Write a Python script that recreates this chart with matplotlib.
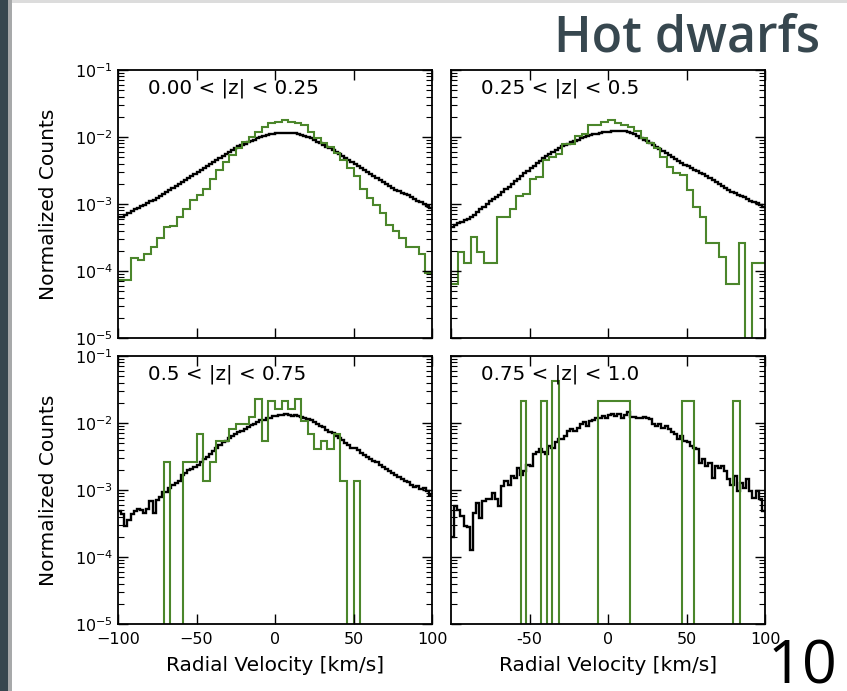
import numpy as np
import matplotlib
matplotlib.use("Agg")
import matplotlib.pyplot as plt
from matplotlib.patches import Rectangle

# ---- data ----
panel_labels = ["0.00 < |z| < 0.25", "0.25 < |z| < 0.5", "0.5 < |z| < 0.75", "0.75 < |z| < 1.0"]

# black: all stars, 100 bins of 2 km/s, stored as log10(normalized counts)
black_edges = np.linspace(-100, 100, 101)
tl_black_log10 = [
    -3.20, -3.19, -3.17, -3.13, -3.10, -3.08, -3.06, -3.03, -3.01, -2.98,
    -2.96, -2.94, -2.91, -2.88, -2.85, -2.82, -2.79, -2.76, -2.73, -2.70,
    -2.67, -2.64, -2.61, -2.58, -2.55, -2.52, -2.49, -2.46, -2.43, -2.40,
    -2.37, -2.34, -2.31, -2.28, -2.25, -2.22, -2.19, -2.17, -2.14, -2.12,
    -2.10, -2.08, -2.06, -2.04, -2.02, -2.00, -1.99, -1.97, -1.96, -1.95,
    -1.945, -1.94, -1.935, -1.935, -1.935, -1.94, -1.945, -1.955, -1.97, -1.985,
    -2.00, -2.02, -2.045, -2.07, -2.095, -2.12, -2.145, -2.17, -2.195, -2.22,
    -2.25, -2.28, -2.31, -2.34, -2.37, -2.40, -2.43, -2.46, -2.49, -2.52,
    -2.55, -2.58, -2.61, -2.64, -2.67, -2.70, -2.73, -2.76, -2.79, -2.81,
    -2.83, -2.85, -2.87, -2.90, -2.92, -2.95, -2.97, -3.00, -3.03, -3.06]
tr_black_log10 = [
    -3.35, -3.32, -3.29, -3.27, -3.24, -3.22, -3.19, -3.16, -3.12, -3.08,
    -3.04, -3.00, -2.96, -2.93, -2.89, -2.86, -2.82, -2.78, -2.74, -2.70,
    -2.66, -2.62, -2.58, -2.54, -2.50, -2.47, -2.43, -2.39, -2.36, -2.32,
    -2.29, -2.26, -2.23, -2.20, -2.17, -2.14, -2.12, -2.10, -2.08, -2.06,
    -2.04, -2.02, -2.00, -1.99, -1.97, -1.96, -1.95, -1.94, -1.93, -1.925,
    -1.92, -1.915, -1.91, -1.905, -1.905, -1.91, -1.92, -1.94, -1.96, -1.99,
    -2.01, -2.04, -2.06, -2.09, -2.12, -2.15, -2.18, -2.21, -2.24, -2.27,
    -2.30, -2.33, -2.36, -2.39, -2.42, -2.44, -2.47, -2.49, -2.51, -2.53,
    -2.55, -2.58, -2.61, -2.64, -2.67, -2.70, -2.73, -2.76, -2.79, -2.82,
    -2.84, -2.86, -2.88, -2.90, -2.93, -2.95, -2.97, -2.99, -3.02, -3.04]
bl_black_log10 = [
    -3.32, -3.36, -3.54, -3.45, -3.36, -3.31, -3.28, -3.30, -3.34, -3.28,
    -3.17, -3.34, -3.15, -3.10, -3.03, -3.03, -2.97, -2.92, -2.90, -2.86,
    -2.78, -2.74, -2.70, -2.68, -2.65, -2.62, -2.58, -2.54, -2.50, -2.46,
    -2.42, -2.38, -2.33, -2.29, -2.27, -2.23, -2.19, -2.16, -2.14, -2.12,
    -2.09, -2.06, -2.03, -2.01, -1.98, -1.96, -1.95, -1.93, -1.92, -1.90,
    -1.89, -1.88, -1.88, -1.87, -1.88, -1.89, -1.88, -1.90, -1.91, -1.93,
    -1.94, -1.96, -1.99, -2.01, -2.04, -2.06, -2.10, -2.13, -2.15, -2.20,
    -2.23, -2.26, -2.30, -2.33, -2.37, -2.38, -2.41, -2.45, -2.48, -2.50,
    -2.54, -2.57, -2.58, -2.62, -2.66, -2.68, -2.72, -2.75, -2.78, -2.80,
    -2.84, -2.87, -2.88, -2.92, -2.95, -2.94, -2.98, -2.97, -3.02, -3.07]
br_black_log10 = [
    -3.70, -3.24, -3.30, -3.39, -3.54, -3.55, -3.90, -3.34, -3.19, -3.42,
    -3.17, -3.14, -3.14, -3.04, -3.14, -3.24, -2.94, -2.87, -2.92, -2.79,
    -2.82, -2.67, -2.77, -2.72, -2.62, -2.64, -2.47, -2.44, -2.39, -2.44,
    -2.47, -2.34, -2.37, -2.29, -2.24, -2.24, -2.19, -2.12, -2.09, -2.12,
    -2.07, -2.01, -1.99, -2.04, -1.97, -1.96, -1.92, -1.92, -1.90, -1.92,
    -1.88, -1.86, -1.89, -1.87, -1.93, -1.88, -1.83, -1.91, -1.91, -1.93,
    -1.92, -1.91, -1.92, -1.94, -2.02, -2.04, -2.01, -2.07, -2.04, -2.09,
    -2.14, -2.17, -2.24, -2.19, -2.27, -2.29, -2.34, -2.37, -2.39, -2.59,
    -2.54, -2.64, -2.59, -2.82, -2.64, -2.67, -2.64, -2.72, -2.84, -2.92,
    -2.79, -3.02, -2.89, -2.97, -2.84, -3.02, -3.12, -3.02, -3.14, -3.32]

# green: hot dwarfs, 48 bins over -100..100 (normalized counts)
green_edges = np.linspace(-100, 100, 49)
tl_green = [
    7.3e-5, 7.3e-5, 1.55e-4, 1.45e-4, 1.8e-4, 2.3e-4, 3.1e-4, 4.5e-4, 4.7e-4, 6.5e-4,
    8.3e-4, 1.15e-3, 1.36e-3, 1.7e-3, 2.4e-3, 3.2e-3, 4.2e-3, 5.4e-3, 6.8e-3, 8.5e-3,
    1.01e-2, 1.2e-2, 1.43e-2, 1.64e-2, 1.68e-2, 1.8e-2, 1.7e-2, 1.6e-2, 1.5e-2, 1.2e-2,
    9.5e-3, 8.1e-3, 7.2e-3, 5.8e-3, 4.6e-3, 3.4e-3, 2.6e-3, 1.7e-3, 1.23e-3, 9.8e-4,
    7.3e-4, 4.9e-4, 3.9e-4, 3.1e-4, 2.3e-4, 2.3e-4, 1.8e-4, 9.3e-5]
tr_green = [
    6.5e-5, 1.95e-4, 1.3e-4, 3.25e-4, 1.95e-4, 1.3e-4, 1.3e-4, 6.5e-4, 6.5e-4, 8.5e-4,
    1.3e-3, 1.4e-3, 2.4e-3, 2.5e-3, 4.5e-3, 5.0e-3, 5.5e-3, 7.9e-3, 7.9e-3, 1.03e-2,
    1.1e-2, 1.5e-2, 1.5e-2, 1.65e-2, 1.8e-2, 1.64e-2, 1.51e-2, 1.43e-2, 1.23e-2, 9.5e-3,
    8.1e-3, 6.8e-3, 5.1e-3, 3.6e-3, 2.9e-3, 2.7e-3, 1.6e-3, 9.1e-4, 6.5e-4, 2.6e-4,
    2.6e-4, 1.6e-4, 6.5e-5, 6.5e-5, 2.6e-4, 0, 1.3e-4, 1.3e-4]
bl_green = [
    0, 0, 0, 0, 0, 0, 0, 2.6e-3, 0, 0,
    2.6e-3, 2.6e-3, 6.8e-3, 1.35e-3, 2.6e-3, 5.4e-3, 5.4e-3, 8.1e-3, 9.5e-3, 9.5e-3,
    1.25e-2, 2.3e-2, 5.4e-3, 2.16e-2, 1.62e-2, 2.16e-2, 1.62e-2, 2.3e-2, 1.08e-2, 6.8e-3,
    4.05e-3, 5.4e-3, 4.05e-3, 6.8e-3, 1.35e-3, 0, 1.35e-3, 0, 0, 0,
    0, 0, 0, 0, 0, 0, 0, 0]
# the last panel has very few stars, its bins are read one by one
br_green_edges = [-100, -55.4, -52.0, -42.5, -38.9, -35.4, -31.4, -6.3, 14.0,
                  47.3, 54.7, 79.4, 83.8, 100]
br_green = [0, 0.021, 0, 0.021, 0, 0.043, 0, 0.021, 0, 0.021, 0, 0.021, 0]

x_ticks = [-100, -50, 0, 50, 100]
br_x_ticks = [-50, 0, 50, 100]
br_x_ticklabels = ["-50", "0", "50", "100"]

GREEN = "#4b862b"
FLOOR = 1e-9  # empty bins drop below the axis
LABEL_FS = 14.5
TICK_FS = 11.5

W, H = 847, 691
fig = plt.figure(figsize=(W / 100, H / 100), dpi=100)
fig.patch.set_facecolor("white")

# slide decoration
fig.add_artist(Rectangle((0, 0), 8 / W, 1, transform=fig.transFigure, color="#37474f", lw=0))
fig.add_artist(Rectangle((8 / W, 0), 4 / W, 1, transform=fig.transFigure, color="#a7a9aa", lw=0))
fig.add_artist(Rectangle((12 / W, 1 - 3 / H), 1, 3 / H, transform=fig.transFigure, color="#dcdcdc", lw=0))
fig.text(820 / W, 1 - 52 / H, "Hot dwarfs", ha="right", va="baseline", fontsize=36,
         fontweight="semibold", color="#37474f", family=["Open Sans", "DejaVu Sans"])
fig.text(837 / W, 1 - 683 / H, "10", ha="right", va="baseline", fontsize=44,
         color="black", family=["Open Sans", "DejaVu Sans"])

lefts = [118 / W, 451 / W]
bottoms = [1 - 338 / H, 1 - 624 / H]
aw, ah = 314 / W, 268 / H

panels = [
    (0, 0, tl_black_log10, green_edges, tl_green),
    (1, 0, tr_black_log10, green_edges, tr_green),
    (0, 1, bl_black_log10, green_edges, bl_green),
    (1, 1, br_black_log10, br_green_edges, br_green),
]

for k, (col, row, blk, gedges, grn) in enumerate(panels):
    ax = fig.add_axes([lefts[col], bottoms[row], aw, ah])
    ax.set_yscale("log")
    ax.stairs(10 ** np.array(blk), black_edges, baseline=None, color="black", lw=1.7)
    g = np.array(grn, dtype=float)
    ax.stairs(np.where(g > 0, g, FLOOR), gedges, baseline=None, color=GREEN, lw=1.5)
    ax.set_xlim(-100, 100)
    ax.set_ylim(1e-5, 1e-1)
    ax.text(0.095, 0.968, panel_labels[k], transform=ax.transAxes, ha="left", va="top",
            fontsize=14.3)

    ax.tick_params(which="both", direction="in", top=True, right=True, labelsize=TICK_FS)
    ax.tick_params(axis="x", pad=6)
    ax.tick_params(which="major", length=7, width=1)
    ax.tick_params(which="minor", length=4, width=0.8)
    for s in ax.spines.values():
        s.set_linewidth(1.3)

    if col == 1 and row == 1:
        ax.set_xticks(br_x_ticks)
        ax.set_xticklabels(br_x_ticklabels)
    else:
        ax.set_xticks(x_ticks)
    if row == 0:
        ax.tick_params(labelbottom=False)
    else:
        ax.set_xlabel("Radial Velocity [km/s]", fontsize=LABEL_FS, labelpad=6)
    if col == 1:
        ax.tick_params(which="both", labelleft=False)
    else:
        ax.set_ylabel("Normalized Counts", fontsize=LABEL_FS)
        ax.yaxis.set_label_coords(-0.19, 0.5)

fig.savefig("out.png", dpi=100, facecolor="white")
